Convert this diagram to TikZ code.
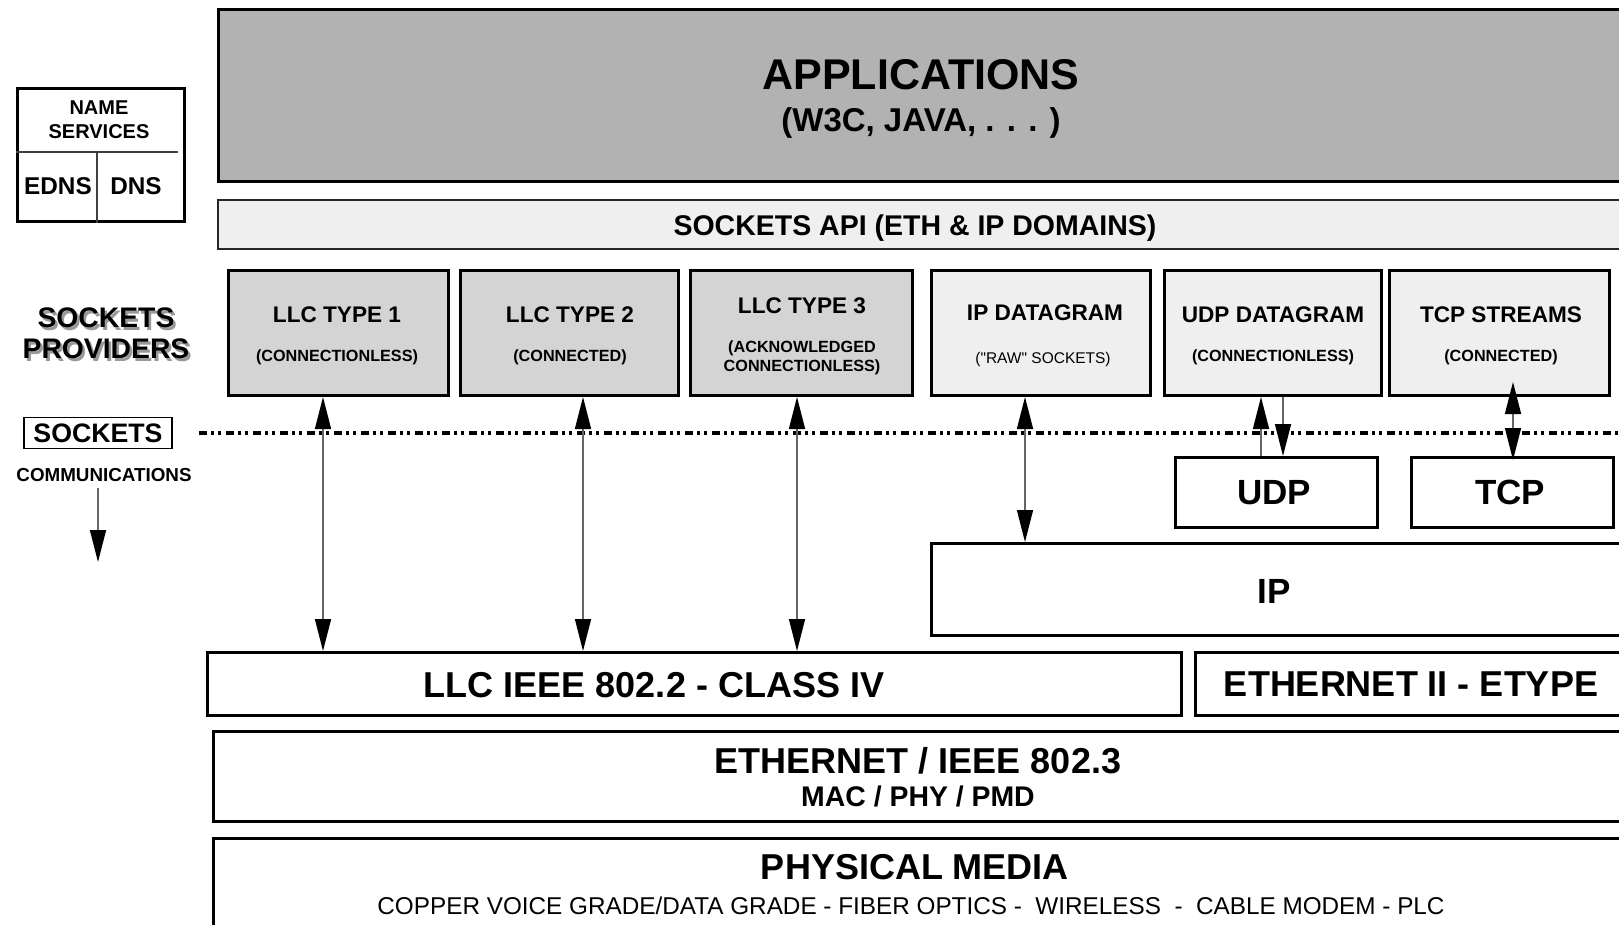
\documentclass[tikz,border=0pt]{standalone}
\usepackage{fontspec}
\setmainfont{Liberation Sans}
\usetikzlibrary{arrows.meta,fit}
\newcommand\fsz[1]{\fontsize{#1}{#1}\selectfont}
\definecolor{appg}{HTML}{B2B2B2}
\definecolor{llcg}{HTML}{D4D4D4}
\definecolor{lite}{HTML}{EFEFEF}
\begin{document}
\begin{tikzpicture}[x=1pt,y=-1pt,
  lay/.style={draw=black, line width=3pt, inner sep=0pt},
  thinlay/.style={draw=black!85, line width=1.6pt, inner sep=0pt},
  txt/.style={inner sep=0pt, text depth=0pt},
  ttl/.style={txt, font=\fsz{22.6}\bfseries},
  sbt/.style={txt, font=\fsz{16.2}\bfseries},
  big/.style={txt, font=\fsz{36}\bfseries},
  conn/.style={draw=black!60, line width=1.5pt},
  tri/.tip={Triangle[length=32pt,width=16pt,color=black]},
  sep/.style={draw=black, line width=3.5pt, dash pattern=on 8pt off 4pt on 3pt off 4pt on 3pt off 5pt}
]
\useasboundingbox (0,0) rectangle (1619,924);
\clip (0,0) rectangle (1619,924);

% ---------- layers ----------
\node[lay, fill=appg, fit={(218,9.5) (1660,181.5)}] (app) {};
\node[thinlay, fill=lite, fit={(218,200) (1660,249)}] (api) {};

\node[lay, fill=llcg, fit={(228.5,270.5) (448.5,395.5)}] (llc1) {};
\node[lay, fill=llcg, fit={(460.5,270.5) (678.5,395.5)}] (llc2) {};
\node[lay, fill=llcg, fit={(690.5,270.5) (912.5,395.5)}] (llc3) {};
\node[lay, fill=lite, fit={(931.5,270.5) (1150.5,395.5)}] (ipd) {};
\node[lay, fill=lite, fit={(1164.5,270.5) (1381.5,395.5)}] (udpd) {};
\node[lay, fill=lite, fit={(1389.5,270.5) (1609.5,395.5)}] (tcps) {};

\node[lay, fill=white, fit={(1175.5,457.5) (1377.5,527.5)}] (udp) {};
\node[lay, fill=white, fit={(1411.5,457.5) (1613.5,527.5)}] (tcp) {};
\node[lay, fill=white, fit={(931.5,543.5) (1660,635.5)}] (ip) {};

\node[lay, fill=white, fit={(207.5,652.5) (1181.5,715)}] (llcieee) {};
\node[lay, fill=white, fit={(1195.5,652.5) (1660,715)}] (eth2) {};
\node[lay, fill=white, fit={(213.5,731.5) (1660,821.5)}] (eth) {};
\node[lay, fill=white, fit={(213.5,838.5) (1660,1000)}] (phys) {};

% ---------- texts ----------
\node[txt, font=\fsz{43}\bfseries] (tapp) at (921,74) {APPLICATIONS};
\node[txt, font=\fsz{33}\bfseries] (tapp2) at (921,120) {(W3C, JAVA, . . . )};
\node[txt, font=\fsz{28.5}\bfseries] (tapi) at (915,225) {SOCKETS API (ETH \& IP DOMAINS)};

\node[ttl] (t1) at (337,315) {LLC TYPE 1};
\node[sbt] (s1) at (337,356) {(CONNECTIONLESS)};
\node[ttl] (t2) at (570,315) {LLC TYPE 2};
\node[sbt] (s2) at (570,356) {(CONNECTED)};
\node[ttl] (t3) at (802,306) {LLC TYPE 3};
\node[sbt] (s3a) at (802,347) {(ACKNOWLEDGED};
\node[sbt] (s3b) at (802,366) {CONNECTIONLESS)};
\node[ttl] (t4) at (1045,313) {IP DATAGRAM};
\node[txt, font=\fsz{15.5}] (s4) at (1043,358) {(\textquotedbl RAW\textquotedbl{} SOCKETS)};
\node[ttl] (t5) at (1273,315) {UDP DATAGRAM};
\node[sbt] (s5) at (1273,356) {(CONNECTIONLESS)};
\node[ttl] (t6) at (1501,315) {TCP STREAMS};
\node[sbt] (s6) at (1501,356) {(CONNECTED)};

\node[txt, font=\fsz{35}\bfseries] (tudp) at (1274,492) {UDP};
\node[txt, font=\fsz{35}\bfseries] (ttcp) at (1510,492) {TCP};
\node[txt, font=\fsz{35}\bfseries] (tip) at (1274,591) {IP};

\node[big] (tllc) at (654,685) {LLC IEEE 802.2 - CLASS IV};
\node[big] (teth2) at (1411,684) {ETHERNET II - ETYPE};
\node[big] (teth) at (918,760) {ETHERNET / IEEE 802.3};
\node[txt, font=\fsz{28.4}\bfseries] (teth2b) at (918,796) {MAC / PHY / PMD};
\node[big] (tphys) at (915,867) {PHYSICAL MEDIA};
\node[txt, font=\fsz{24.3}] (tphys2) at (911,906) {COPPER VOICE GRADE/DATA GRADE - FIBER OPTICS -\ \ WIRELESS\ \ -\ \ CABLE MODEM - PLC};

% ---------- left side ----------
\node[lay, fit={(17,88) (184,221)}] (ns) {};
\coordinate (nsh) at (178,152);
\coordinate (nsv) at (97,152);
\draw[draw=black!75, line width=1.5pt] (ns.west |- nsh) -- (nsh);
\draw[draw=black!75, line width=1.5pt] (nsv) -- (nsv |- ns.south);
\node[txt, font=\fsz{20}\bfseries] (tname) at (99,108) {NAME};
\node[txt, font=\fsz{20}\bfseries] (tserv) at (99,132) {SERVICES};
\node[txt, font=\fsz{24.3}\bfseries] (tedns) at (58,186) {EDNS};
\node[txt, font=\fsz{24.3}\bfseries] (tdns) at (136,186) {DNS};

\node[txt, font=\fsz{28.3}\bfseries, text=black!40] (shs) at (108.5,320.5) {SOCKETS};
\node[txt, font=\fsz{28.3}\bfseries, text=black!40] (shp) at (108.5,351.5) {PROVIDERS};
\node[txt, font=\fsz{28.3}\bfseries] (sp1) at (106,318) {SOCKETS};
\node[txt, font=\fsz{28.3}\bfseries] (sp2) at (106,349) {PROVIDERS};

\node[draw=black, line width=1.5pt, inner sep=0pt, minimum width=148pt, minimum height=31pt,
      font=\fsz{26.7}\bfseries] (sk) at (98,433) {SOCKETS};
\node[txt, font=\fsz{18.8}\bfseries] (comm) at (104,475) {COMMUNICATIONS};
\coordinate (cs) at (98,488);
\coordinate (ce) at (98,562);
\draw[conn, -tri] (cs) -- (ce);

% ---------- separator ----------
\coordinate (dl) at (199,433);
\coordinate (dr) at (1625,433);
\draw[sep] (dl) -- (dr);

% ---------- connectors ----------
\coordinate (a1) at (323,0);
\coordinate (a2) at (583,0);
\coordinate (a3) at (797,0);
\coordinate (a4) at (1025,0);
\coordinate (a5) at (1261,0);
\coordinate (a6) at (1283,0);
\coordinate (a7) at (1513,0);
\draw[conn, tri-tri] (llc1.south -| a1) -- (llcieee.north -| a1);
\draw[conn, tri-tri] (llc2.south -| a2) -- (llcieee.north -| a2);
\draw[conn, tri-tri] (llc3.south -| a3) -- (llcieee.north -| a3);
\draw[conn, tri-tri] (ipd.south -| a4) -- (ip.north -| a4);
\draw[conn, -tri] (udp.north -| a5) -- (udpd.south -| a5);
\draw[conn, -tri] (udpd.south -| a6) -- (udp.north -| a6);
\draw[conn, tri-tri] ([yshift=15pt]tcps.south -| a7) -- ([yshift=-4pt]tcp.north -| a7);
\end{tikzpicture}
\end{document}
